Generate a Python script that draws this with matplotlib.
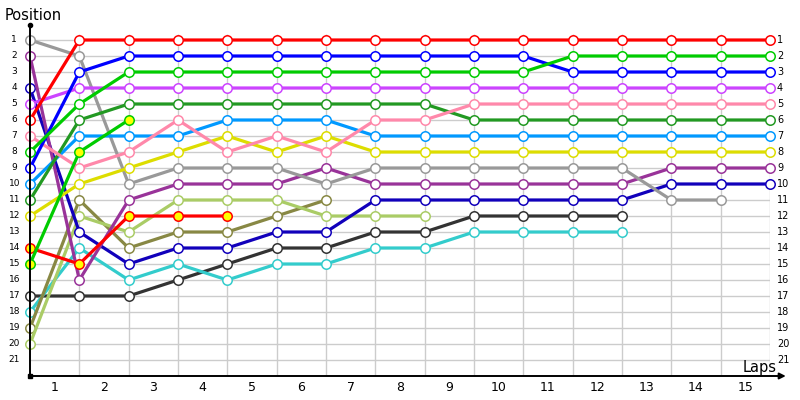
import matplotlib
matplotlib.use('Agg')
import matplotlib.pyplot as plt

laps = list(range(0, 16))
lap_labels = [str(i) for i in range(1, 16)]
positions = list(range(1, 22))

red = [6, 1, 1, 1, 1, 1, 1, 1, 1, 1, 1, 1, 1, 1, 1, 1]
green = [8, 5, 3, 3, 3, 3, 3, 3, 3, 3, 3, 2, 2, 2, 2, 2]
blue = [9, 3, 2, 2, 2, 2, 2, 2, 2, 2, 2, 3, 3, 3, 3, 3]
violet = [5, 4, 4, 4, 4, 4, 4, 4, 4, 4, 4, 4, 4, 4, 4, 4]
pink = [7, 9, 8, 6, 8, 7, 8, 6, 6, 5, 5, 5, 5, 5, 5, 5]
dark_green = [11, 6, 5, 5, 5, 5, 5, 5, 5, 6, 6, 6, 6, 6, 6, 6]
sky = [10, 7, 7, 7, 6, 6, 6, 7, 7, 7, 7, 7, 7, 7, 7, 7]
yellow = [12, 10, 9, 8, 7, 8, 7, 8, 8, 8, 8, 8, 8, 8, 8, 8]
gray = [1, 2, 10, 9, 9, 9, 10, 9, 9, 9, 9, 9, 9, 11, 11]
purple = [2, 16, 11, 10, 10, 10, 9, 10, 10, 10, 10, 10, 10, 9, 9, 9]
navy = [4, 13, 15, 14, 14, 13, 13, 11, 11, 11, 11, 11, 11, 10, 10, 10]
lime = [20, 12, 13, 11, 11, 11, 12, 12, 12]
olive = [19, 11, 14, 13, 13, 12, 11]
red_yellow = [14, 15, 12, 12, 12]
green_yellow = [15, 8, 6]
teal = [18, 14, 16, 15, 16, 15, 15, 14, 14, 13, 13, 13, 13]
charcoal = [17, 17, 17, 16, 15, 14, 14, 13, 13, 12, 12, 12, 12]

series = [
    (charcoal, '#333333', 'white'),
    (teal, '#33cccc', 'white'),
    (olive, '#888844', 'white'),
    (lime, '#aacc66', 'white'),
    (navy, '#1100bb', 'white'),
    (purple, '#993399', 'white'),
    (gray, '#999999', 'white'),
    (yellow, '#dddd00', 'white'),
    (sky, '#0099ff', 'white'),
    (dark_green, '#229922', 'white'),
    (pink, '#ff88aa', 'white'),
    (violet, '#cc44ff', 'white'),
    (blue, '#0000ff', 'white'),
    (green, '#00cc00', 'white'),
    (red_yellow, '#ff0000', '#ffff00'),
    (green_yellow, '#00cc00', '#ffff00'),
    (red, '#ff0000', 'white'),
]

fig = plt.figure(figsize=(8, 4), dpi=100)
ax = fig.add_axes([30 / 800, 24 / 400, 740 / 800, 352 / 400])
ax.set_xlim(0, 15)
ax.set_ylim(22, 0)
ax.axis('off')

# grid
for p in positions:
    ax.plot([0, 15], [p, p], color='#cccccc', lw=1, zorder=1, solid_capstyle='butt')
for x in laps[1:]:
    ax.plot([x, x], [0.65, 22], color='#cccccc', lw=1, zorder=1, solid_capstyle='butt')

# series
for vals, col, fill in series:
    xs = laps[:len(vals)]
    ax.plot(xs, vals, color=col, lw=2.3, zorder=3, solid_capstyle='butt',
            marker='o', markersize=6.8, markerfacecolor=fill,
            markeredgecolor=col, markeredgewidth=1.1, clip_on=False)

# axes lines
ax.plot([0, 0], [22, 0.06], color='black', lw=1.4, zorder=5, clip_on=False)
ax.plot([0], [0.06], marker='o', markersize=3, color='black', zorder=5, clip_on=False)
ax.plot([0], [22], marker='s', markersize=2.5, color='black', zorder=5, clip_on=False)
ax.annotate('', xy=(15.32, 22), xytext=(0, 22),
            arrowprops=dict(arrowstyle='-|>', color='black', lw=1.4,
                            mutation_scale=9, shrinkA=0, shrinkB=0),
            annotation_clip=False, zorder=5)

# tick labels
for p in positions:
    ax.text(-0.32, p, str(p), ha='center', va='center', fontsize=6.5, color='black')
    ax.text(15.14, p, str(p), ha='left', va='center', fontsize=7, color='black')
for i, lab in enumerate(lap_labels):
    ax.text(i + 0.5, 22.7, lab, ha='center', va='center', fontsize=9, color='black')

fig.text(5 / 800, 1 - 16 / 400, 'Position', ha='left', va='center', fontsize=10.5,
         color='black')
ax.text(14.79, 21.45, 'Laps', ha='center', va='center', fontsize=10.5, color='black')

fig.savefig('out.png', dpi=100)
